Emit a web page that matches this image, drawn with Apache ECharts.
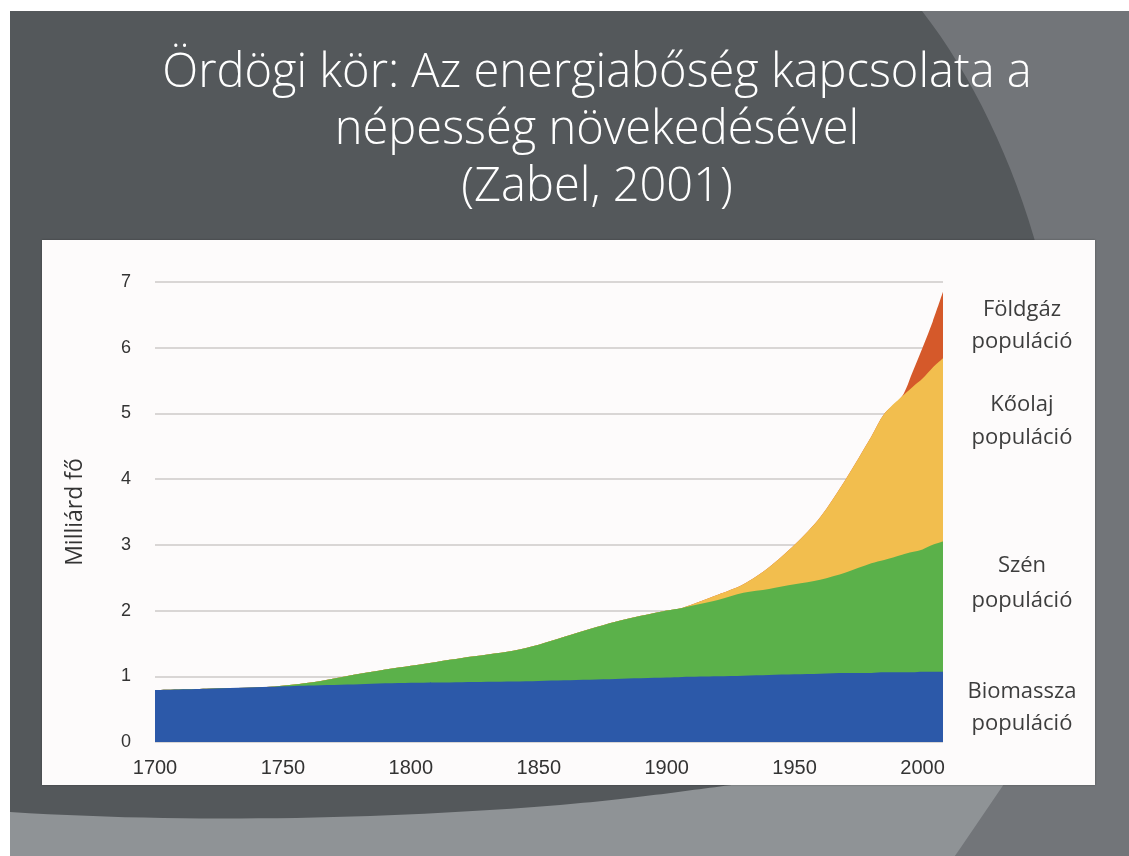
<!DOCTYPE html>
<html>
<head>
<meta charset="utf-8">
<script src="https://cdn.jsdelivr.net/npm/echarts@6/dist/echarts.min.js"></script>
<style>
  html, body { margin: 0; padding: 0; background: #ffffff; }
  #main { width: 1129px; height: 856px; }
</style>
</head>
<body>
<div id="main"></div>
<script>
// years (x axis values)
var years = [1700, 1720, 1745, 1760, 1780, 1800, 1820, 1840, 1850, 1860, 1880, 1900, 1906,
             1920, 1930, 1940, 1950, 1960, 1970, 1980, 1985, 1992, 1996, 2000, 2004, 2008];

// milliárd fő, per energy source (stacked)
var biomassza = [0.79, 0.81, 0.84, 0.86, 0.88, 0.90, 0.91, 0.92, 0.93, 0.94, 0.96, 0.98, 0.99,
                 1.00, 1.01, 1.02, 1.03, 1.04, 1.05, 1.05, 1.06, 1.06, 1.06, 1.07, 1.07, 1.07];
var szen      = [0, 0, 0, 0.04, 0.16, 0.26, 0.37, 0.47, 0.55, 0.66, 0.87, 1.02, 1.05,
                 1.16, 1.26, 1.31, 1.37, 1.43, 1.53, 1.67, 1.71, 1.79, 1.83, 1.86, 1.93, 1.98];
var koolaj    = [0, 0, 0, 0, 0, 0, 0, 0, 0, 0, 0, 0, 0,
                 0.08, 0.13, 0.33, 0.60, 0.95, 1.42, 1.93, 2.22, 2.41, 2.51, 2.60, 2.70, 2.79];
var foldgaz   = [0, 0, 0, 0, 0, 0, 0, 0, 0, 0, 0, 0, 0,
                 0, 0, 0, 0, 0, 0, 0, 0, 0, 0.22, 0.47, 0.70, 1.01];

var yearTicks = [1700, 1750, 1800, 1850, 1900, 1950, 2000];

var names  = ['Biomassza', 'Szén', 'Kőolaj', 'Földgáz'];
var colors = ['#2c59a9', '#5bb14a', '#f2be4e', '#d5592a'];

// sample a cubic bezier into polygon points (background decoration only)
function bez(p0, p1, p2, p3) {
  var pts = [];
  for (var k = 0; k <= 30; k++) {
    var t = k / 30, u = 1 - t;
    pts.push([
      u*u*u*p0[0] + 3*u*u*t*p1[0] + 3*u*t*t*p2[0] + t*t*t*p3[0],
      u*u*u*p0[1] + 3*u*u*t*p1[1] + 3*u*t*t*p2[1] + t*t*t*p3[1]
    ]);
  }
  return pts;
}

var rightSwoosh = bez([922, 11], [1015, 130], [1080, 330], [1062, 500])
  .concat(bez([1062, 500], [1052, 640], [1012, 760], [955, 856]))
  .concat([[1129, 856], [1129, 11]]);

var bottomSwoosh = bez([10, 812], [200, 824], [400, 818], [560, 805])
  .concat(bez([560, 805], [640, 798], [690, 790], [740, 784]))
  .concat([[1004, 784], [955, 856], [10, 856]]);

var myChart = echarts.init(document.getElementById('main'));

// ECharts stacks the x dimension when both axes are 'value', so the running
// totals are summed here and each area is drawn from 0, top layer first.
var seriesVals = [biomassza, szen, koolaj, foldgaz];
var running = years.map(function () { return 0; });
var series = seriesVals.map(function (vals, i) {
  running = running.map(function (s, j) { return s + vals[j]; });
  var tot = running.slice();
  return {
    name: names[i],
    type: 'line',
    smooth: 0.3,
    showSymbol: false,
    symbol: 'none',
    lineStyle: { width: 0 },
    areaStyle: { color: colors[i], opacity: 1, origin: 'start' },
    data: years.map(function (y, j) { return [y, +tot[j].toFixed(3)]; }),
    z: 10 - i
  };
});

var labelFont = '22px "Open Sans"';

var option = {
  animation: false,
  graphic: [
    // slide background
    { type: 'rect', z: -100, shape: { x: 10, y: 11, width: 1119, height: 845 }, style: { fill: '#54585b' } },
    { type: 'polygon', z: -99, shape: { points: rightSwoosh }, style: { fill: '#727579' } },
    { type: 'polygon', z: -98, shape: { points: bottomSwoosh }, style: { fill: '#8f9396' } },
    // chart panel
    { type: 'rect', z: -90, shape: { x: 42, y: 240, width: 1053, height: 545 },
      style: { fill: '#fdfbfb', shadowBlur: 2, shadowColor: 'rgba(0,0,0,0.3)' } },
    // title
    { type: 'text', z: 100, x: 597, y: 45,
      style: { text: 'Ördögi kör: Az energiabőség kapcsolata a\nnépesség növekedésével\n(Zabel, 2001)',
               fill: '#ffffff', font: '300 47px "Open Sans"', lineHeight: 57, align: 'center' } },
    // series labels
    { type: 'text', z: 100, x: 1022, y: 294,
      style: { text: 'Földgáz\npopuláció', fill: '#3d3d3d', font: labelFont, lineHeight: 32, align: 'center' } },
    { type: 'text', z: 100, x: 1022, y: 388,
      style: { text: 'Kőolaj\npopuláció', fill: '#3d3d3d', font: labelFont, lineHeight: 33, align: 'center' } },
    { type: 'text', z: 100, x: 1022, y: 548,
      style: { text: 'Szén\npopuláció', fill: '#3d3d3d', font: labelFont, lineHeight: 35, align: 'center' } },
    { type: 'text', z: 100, x: 1022, y: 676,
      style: { text: 'Biomassza\npopuláció', fill: '#3d3d3d', font: labelFont, lineHeight: 32, align: 'center' } }
  ],
  grid: { left: 155, right: 186, top: 282, bottom: 114, containLabel: false },
  xAxis: {
    type: 'value',
    min: 1700, max: 2008, interval: 50,
    axisLine: { show: false },
    axisTick: { show: false },
    splitLine: { show: false },
    axisLabel: {
      margin: 16, color: '#333333', fontSize: 20, fontFamily: 'Liberation Sans',
      showMaxLabel: false,
      formatter: function (v) { return yearTicks.indexOf(v) >= 0 ? String(v) : ''; }
    }
  },
  yAxis: {
    type: 'value',
    min: 0, max: 7, interval: 1,
    name: 'Milliárd fő',
    nameLocation: 'middle',
    nameGap: 68,
    nameTextStyle: { color: '#333333', fontSize: 23, fontFamily: 'Open Sans' },
    axisLine: { show: false },
    axisTick: { show: false },
    axisLabel: { margin: 24, color: '#333333', fontSize: 18, fontFamily: 'Liberation Sans' },
    splitLine: { lineStyle: { color: '#d9d6d5', width: 2 } }
  },
  series: series
};

myChart.setOption(option);
</script>
</body>
</html>
